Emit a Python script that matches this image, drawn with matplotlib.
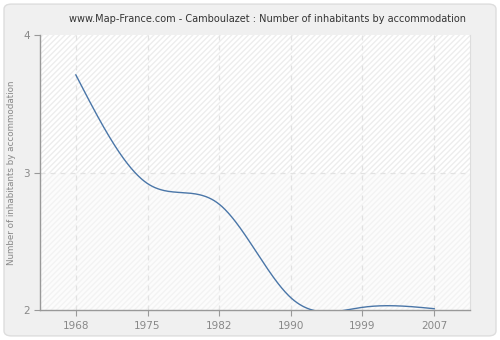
import matplotlib
matplotlib.use("Agg")
from matplotlib import pyplot as plt
from matplotlib.patches import FancyBboxPatch, Rectangle
import numpy as np

years = ["1968", "1975", "1982", "1990", "1999", "2007"]
inhabitants = [3.71, 2.92, 2.77, 2.09, 2.02, 2.01]
y_ticks = [2, 3, 4]

TITLE = "www.Map-France.com - Camboulazet : Number of inhabitants by accommodation"
Y_LABEL = "Number of inhabitants by accommodation"


def natural_spline(x, y, n=400):
    # plain natural cubic spline, solved as a small linear system
    x = np.asarray(x, dtype=float)
    y = np.asarray(y, dtype=float)
    k = len(x)
    h = np.diff(x)
    A = np.zeros((k, k))
    b = np.zeros(k)
    A[0, 0] = 1
    A[-1, -1] = 1
    for i in range(1, k - 1):
        A[i, i - 1] = h[i - 1]
        A[i, i] = 2 * (h[i - 1] + h[i])
        A[i, i + 1] = h[i]
        b[i] = 3 * ((y[i + 1] - y[i]) / h[i] - (y[i] - y[i - 1]) / h[i - 1])
    c = np.linalg.solve(A, b)
    xs = np.linspace(x[0], x[-1], n)
    ys = np.empty_like(xs)
    for j, xv in enumerate(xs):
        i = min(np.searchsorted(x, xv, side="right") - 1, k - 2)
        d = xv - x[i]
        bi = (y[i + 1] - y[i]) / h[i] - h[i] * (2 * c[i] + c[i + 1]) / 3
        di = (c[i + 1] - c[i]) / (3 * h[i])
        ys[j] = y[i] + bi * d + c[i] * d ** 2 + di * d ** 3
    return xs, ys


fig = plt.figure(figsize=(5, 3.4), dpi=100)
fig.patch.set_facecolor("white")
fig.patches.append(FancyBboxPatch((0.008, 0.012), 0.984, 0.976,
                                  boxstyle="round,pad=0,rounding_size=0.015",
                                  transform=fig.transFigure, facecolor="#f0f0f0",
                                  edgecolor="#dddddd", linewidth=1, zorder=-10))

ax = fig.add_axes([0.08, 0.088, 0.86, 0.809])
ax.set_facecolor("#fafafa")
pos = np.arange(len(years))
ax.set_xlim(-0.5, len(years) - 0.5)
ax.set_ylim(2, 4)

# hatched bands behind the curve
ax.add_patch(Rectangle((-0.5, 3), len(years), 1, facecolor="#ffffff",
                       edgecolor="#ededed", hatch="//////", linewidth=0, zorder=0))
ax.add_patch(Rectangle((-0.5, 2), len(years), 1, facecolor="#fcfcfc",
                       edgecolor="#f3f3f3", hatch="//////", linewidth=0, zorder=0))

for p in pos:
    ax.axvline(p, color="#e2e2e2", linestyle=(0, (4, 4)), linewidth=0.9, zorder=1)
ax.axhline(3, color="#e2e2e2", linestyle=(0, (4, 4)), linewidth=0.9, zorder=1)

xs, ys = natural_spline(pos, inhabitants)
ax.plot(xs, ys, color="#4a76a8", linewidth=1.0, zorder=3)

ax.set_xticks(pos)
ax.set_xticklabels(years)
ax.set_yticks(y_ticks)
ax.tick_params(axis="both", colors="#999999", labelcolor="#888888", labelsize=7.5,
               length=4, width=0.8)
ax.tick_params(axis="x", pad=4)

for side in ("left", "bottom"):
    ax.spines[side].set_color("#999999")
    ax.spines[side].set_linewidth(1.0)
ax.spines["top"].set_visible(False)
ax.spines["right"].set_color("#dddddd")
ax.spines["right"].set_linewidth(0.8)

ax.set_ylabel(Y_LABEL, color="#888888", fontsize=6.3)
ax.yaxis.set_label_coords(-0.055, 0.5)
fig.text(0.535, 0.945, TITLE, ha="center", va="center", fontsize=7, color="#333333")

fig.savefig("out.png", dpi=100, facecolor=fig.get_facecolor())
